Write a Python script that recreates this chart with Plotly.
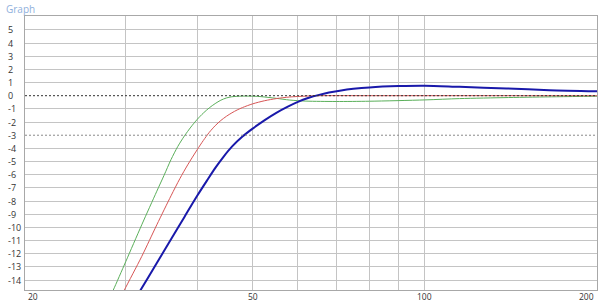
import math
import plotly.graph_objects as go

# ---- data ----
green_f = [27.5, 28.5, 30, 32, 34, 35, 36, 37, 38, 39, 40, 41, 42, 43, 44, 45, 46, 48, 51, 55, 58, 62, 70, 80, 100, 115, 140, 170, 200]
green_v = [-16.2, -14.8, -12.6, -9.8, -7.25, -6.05, -4.85, -3.85, -3.05, -2.38, -1.8, -1.32, -0.92, -0.6, -0.34, -0.17, -0.08, -0.03, -0.05, -0.2, -0.33, -0.41, -0.44, -0.42, -0.32, -0.22, -0.14, -0.08, -0.04]

red_f = [28.5, 29.8, 32, 34, 36, 37.3, 38.5, 40, 41, 42, 43, 44, 45, 46, 47, 48, 50, 52.5, 55, 58, 62, 66, 80, 100, 150, 200]
red_v = [-16.5, -14.8, -12.2, -9.8, -7.6, -6.3, -5.25, -4.1, -3.4, -2.78, -2.28, -1.88, -1.56, -1.3, -1.08, -0.9, -0.62, -0.38, -0.22, -0.1, -0.03, 0.0, 0.0, 0.0, 0.0, 0.0]

blue_f = [30.5, 31.8, 34, 36, 38, 40, 41.6, 43, 44.5, 46, 48, 50, 52.5, 55, 57.5, 60, 62.5, 65.6, 68, 71, 75, 80, 90, 100, 115, 139, 165, 200]
blue_v = [-16.1, -14.8, -12.7, -10.9, -9.2, -7.6, -6.45, -5.5, -4.62, -3.87, -3.1, -2.5, -1.85, -1.3, -0.85, -0.47, -0.18, 0.08, 0.24, 0.38, 0.52, 0.63, 0.73, 0.76, 0.67, 0.55, 0.42, 0.34]

x_grid = [30, 40, 50, 60, 70, 80, 90, 100]
x_labels = [20, 50, 100, 200]
y_labels = list(range(5, -15, -1))
ref_lines = [0, -3]

fig = go.Figure()
fig.add_trace(go.Scatter(x=green_f, y=green_v, mode="lines", line=dict(color="rgb(90,175,90)", width=1, shape="spline", smoothing=0.8), hoverinfo="skip"))
fig.add_trace(go.Scatter(x=red_f, y=red_v, mode="lines", line=dict(color="rgb(215,85,85)", width=1, shape="spline", smoothing=0.8), hoverinfo="skip"))
fig.add_trace(go.Scatter(x=blue_f, y=blue_v, mode="lines", line=dict(color="rgb(25,25,170)", width=2, shape="spline", smoothing=0.8), hoverinfo="skip"))

fig.add_shape(type="line", xref="paper", x0=0, x1=1, yref="y", y0=ref_lines[0], y1=ref_lines[0],
              line=dict(color="#303030", width=1, dash="2px,2px"), layer="above")
fig.add_shape(type="line", xref="paper", x0=0, x1=1, yref="y", y0=ref_lines[1], y1=ref_lines[1],
              line=dict(color="#8a8a8a", width=1, dash="2px,2px"), layer="above")

font = "Open Sans, Noto Sans, sans-serif"
annotations = []
for v in y_labels:
    annotations.append(dict(text=str(v), xref="paper", x=0, xshift=-19, xanchor="left",
                            yref="y", y=v, yanchor="middle", showarrow=False,
                            font=dict(family=font, size=9, color="#333333")))
for f in x_labels:
    anchor = "left" if f == x_labels[0] else ("right" if f == x_labels[-1] else "center")
    xs = 1 if f == x_labels[0] else (-1 if f == x_labels[-1] else 0)
    annotations.append(dict(text=str(f), xref="x", x=math.log10(f), xanchor=anchor, xshift=xs,
                            yref="paper", y=0, yanchor="middle", yshift=-6, showarrow=False,
                            font=dict(family=font, size=8.5, color="#333333")))
annotations.append(dict(text="Graph", xref="paper", yref="paper", x=0, xshift=-21, xanchor="left",
                        y=1, yshift=16, yanchor="top", showarrow=False,
                        font=dict(family=font, size=10, color="#8fb0dc")))

fig.update_layout(
    width=600, height=302,
    margin=dict(l=25, r=3, t=16, b=12),
    paper_bgcolor="white", plot_bgcolor="white",
    showlegend=False,
    annotations=annotations,
    xaxis=dict(type="log", range=[math.log10(20), math.log10(200)], tickvals=x_grid,
               showticklabels=False, showgrid=True, gridcolor="#c4c4c4", gridwidth=1,
               zeroline=False, showline=True, linecolor="#a8a8a8", mirror=True, ticks=""),
    yaxis=dict(range=[-14.75, 6.05], tickvals=[v for v in y_labels if v not in ref_lines],
               showticklabels=False, showgrid=True, gridcolor="#c4c4c4", gridwidth=1,
               zeroline=False, showline=True, linecolor="#a8a8a8", mirror=True, ticks=""),
)

fig.write_html("out.html")
